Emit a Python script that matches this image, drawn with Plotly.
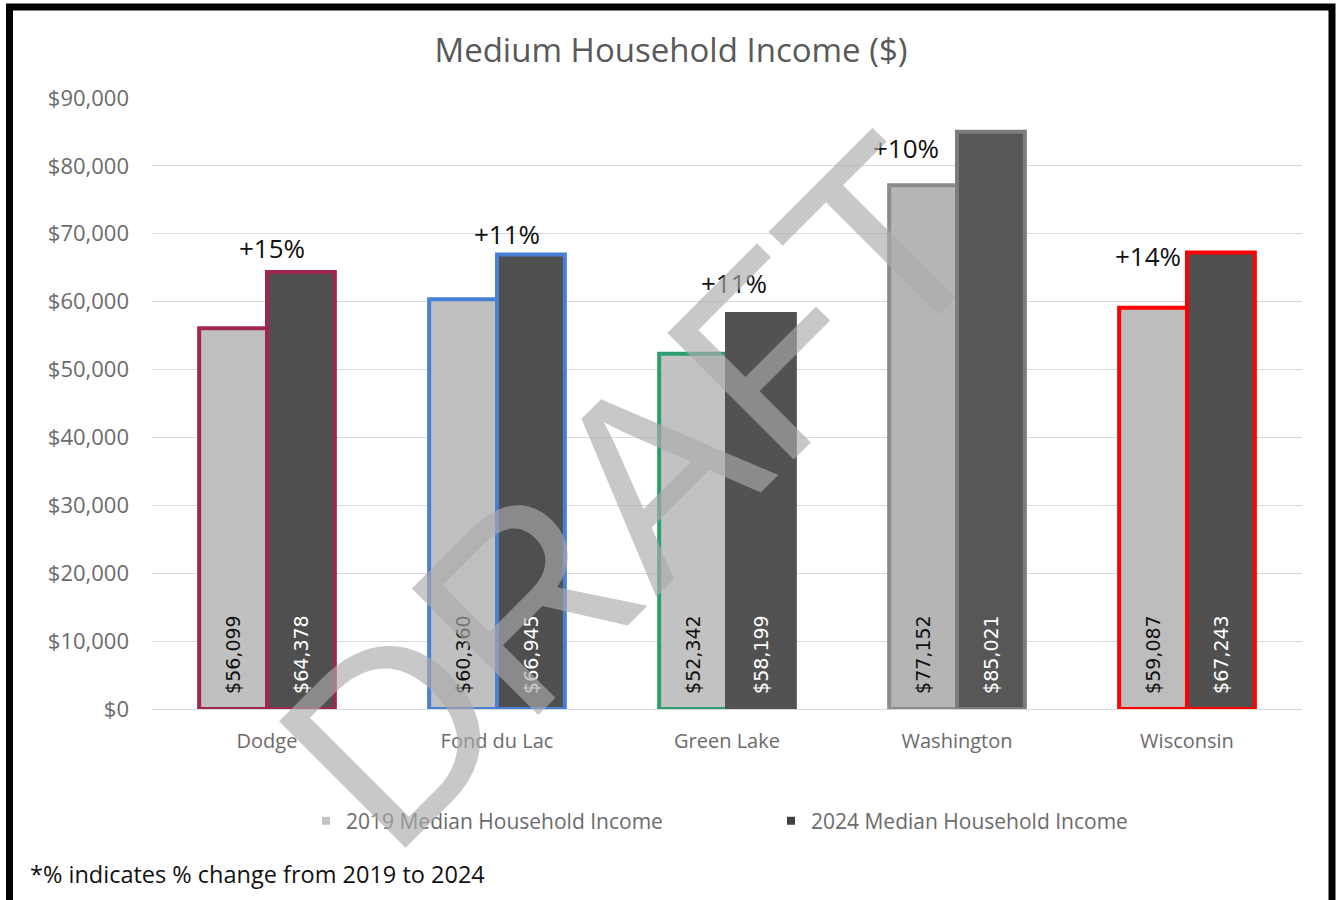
import plotly.graph_objects as go

# Median household income by area, 2019 vs 2024
areas = ["Dodge", "Fond du Lac", "Green Lake", "Washington", "Wisconsin"]
income_2019 = [56099, 60360, 52342, 77152, 59087]
income_2024 = [64378, 66945, 58199, 85021, 67243]
y_ticks = [0, 10000, 20000, 30000, 40000, 50000, 60000, 70000, 80000, 90000]

# Per-area outline colours and fills
fill_2019 = ["#c0c0c0", "#c0c0c0", "#c2c2c2", "#b5b5b5", "#bdbdbd"]
fill_2024 = ["#4f4f4f", "#4f4f4f", "#525252", "#575757", "#505050"]
edge_2019 = ["#a0264f", "#4a7fd6", "#2e9e70", "#8c8c8c", "#ff0000"]
edge_2024 = ["#a0264f", "#4a7fd6", "#525252", "#7c7c7c", "#ff0000"]

# Offsets (px) of the % change callouts relative to the 2024 bar top / group centre
pct_dx = [5, 10, 7, -51, -39]
pct_dy = [24, 21, 31, -16, -4]

W, H = 1342, 900
L, R, T, B = 152, 40, 98, 191
PW, PH = W - L - R, H - T - B


def px_x(px):
    return (px - L) / PW


def px_y(py):
    return (H - B - py) / PH


FONT = "Open Sans"
GREY = "#6b6b6b"

fig = go.Figure()

fig.add_trace(go.Bar(
    x=areas, y=income_2019, name="2019 Median Household Income",
    marker=dict(color=fill_2019, line=dict(color=edge_2019, width=4)),
    texttemplate="\u00a0\u00a0%{y:$,.0f}", textposition="inside",
    insidetextanchor="start", textangle=-90,
    insidetextfont=dict(family="DejaVu Sans", size=19, color="#111111"),
    showlegend=False, hoverinfo="skip",
))
fig.add_trace(go.Bar(
    x=areas, y=income_2024, name="2024 Median Household Income",
    marker=dict(color=fill_2024, line=dict(color=edge_2024, width=4)),
    texttemplate="\u00a0\u00a0%{y:$,.0f}", textposition="inside",
    insidetextanchor="start", textangle=-90,
    insidetextfont=dict(family="DejaVu Sans", size=19, color="#ffffff"),
    showlegend=False, hoverinfo="skip",
))

# Legend entries with small square swatches
for name, col in [("2019 Median Household Income", "#c4c4c4"),
                  ("2024 Median Household Income", "#404040")]:
    fig.add_trace(go.Scatter(
        x=[None], y=[None], mode="markers", name=name,
        marker=dict(symbol="square", size=8, color=col),
    ))

annotations = []
for i, area in enumerate(areas):
    change = round(100 * (income_2024[i] / income_2019[i] - 1))
    annotations.append(dict(
        x=area, y=income_2024[i], xref="x", yref="y",
        text=f"+{change}%", showarrow=False,
        xshift=pct_dx[i], yshift=pct_dy[i],
        xanchor="center", yanchor="middle",
        font=dict(family=FONT, size=26, color="#111111"),
    ))

annotations.append(dict(
    x=px_x(28), y=px_y(874), xref="paper", yref="paper",
    text="*% indicates % change from 2019 to 2024", showarrow=False,
    xanchor="left", yanchor="middle",
    font=dict(family=FONT, size=23.5, color="#111111"),
))

# Watermark
annotations.append(dict(
    x=px_x(633), y=px_y(493), xref="paper", yref="paper",
    text="DRAFT", showarrow=False, textangle=-45,
    xanchor="center", yanchor="middle",
    font=dict(family="Liberation Sans", size=260, color="rgba(170,170,170,0.65)"),
))

fig.update_layout(
    width=W, height=H,
    margin=dict(l=L, r=R, t=T, b=B),
    paper_bgcolor="white", plot_bgcolor="white",
    barmode="group", bargap=0.41, bargroupgap=0,
    title=dict(
        text="Medium Household Income ($)",
        x=0.5, xref="container", xanchor="center",
        y=1 - 50 / H, yref="container", yanchor="middle",
        font=dict(family=FONT, size=33, color="#595959"),
    ),
    xaxis=dict(
        showgrid=False, showline=True, linecolor="#d9d9d9", linewidth=1,
        ticks="", tickfont=dict(family=FONT, size=20, color=GREY),
        ticklabelstandoff=14,
    ),
    yaxis=dict(
        range=[0, 90000], tickvals=y_ticks, tickformat="$,.0f",
        showgrid=True, gridcolor="#d9d9d9", gridwidth=1,
        zeroline=False, showline=False, ticks="",
        tickfont=dict(family=FONT, size=22, color=GREY),
        ticklabelstandoff=22,
    ),
    legend=dict(
        orientation="h", x=px_x(306), y=px_y(821),
        xanchor="left", yanchor="middle",
        entrywidth=420, entrywidthmode="pixels",
        font=dict(family=FONT, size=21, color=GREY),
        bgcolor="rgba(0,0,0,0)",
    ),
    annotations=annotations,
    shapes=[dict(
        type="rect", xref="paper", yref="paper",
        x0=px_x(9.5), x1=px_x(1332), y0=px_y(910), y1=px_y(7),
        line=dict(color="black", width=7), fillcolor="rgba(0,0,0,0)",
        layer="above",
    )],
)

fig.write_html("out.html")
